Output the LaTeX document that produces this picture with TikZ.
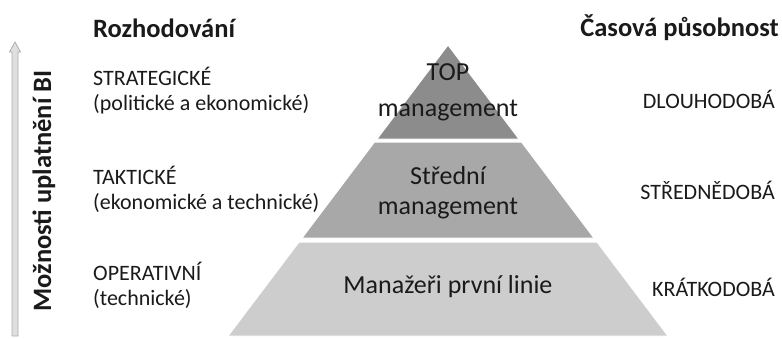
\documentclass[tikz,border=0pt]{standalone}
\usepackage{fontspec}
\setmainfont{Carlito}
\usetikzlibrary{positioning}

\definecolor{topgray}{HTML}{8C8C8C}
\definecolor{midgray}{HTML}{A8A8A8}
\definecolor{lowgray}{HTML}{CDCDCD}
\definecolor{inktext}{HTML}{1A1A1A}

\tikzstyle{heading} = [font=\fontsize{26.5}{30}\selectfont\bfseries,text=inktext,inner sep=0pt]
\tikzstyle{level} = [font=\fontsize{22}{25}\selectfont,text=inktext,align=left,anchor=west,inner sep=0pt]
\tikzstyle{horizon} = [font=\fontsize{22}{25}\selectfont,text=inktext,anchor=east,inner sep=0pt]
\tikzstyle{tier} = [font=\fontsize{26}{30}\selectfont,text=inktext,align=center,inner sep=0pt]
\tikzstyle{layer} = [draw=white,line width=1pt]
\tikzstyle{bigarrow} = [draw=gray!65,fill=gray!25,line width=0.8pt]

\begin{document}
\begin{tikzpicture}[x=1pt,y=-1pt]
      \useasboundingbox (0,0) rectangle (782,338);
      %pyramid
      \path[layer,fill=topgray] (448,45) -- (519,139) -- (377,139) -- cycle;
      \path[layer,fill=midgray] (374.5,142) -- (521.5,142) -- (594,238) -- (302,238) -- cycle;
      \path[layer,fill=lowgray] (299,242) -- (597,242) -- (668,336) -- (228,336) -- cycle;
      \node[tier] (top) at (448,92) {TOP\\[6pt]management};
      \node[tier] (mid) at (448,193) {Střední\\management};
      \node[tier] (low) at (448,287) {Manažeři první linie};

      %arrow
      \coordinate (arrbase) at (15,336);
      \coordinate (arrtip) at (15,42);
      \path[bigarrow] (12,336) -- (12,52) -- (9.5,52) -- (arrtip) -- (20.5,52) -- (18,52) -- (18,336) -- cycle;
      \node[heading,rotate=90] (bi) at (44,191) {Možnosti uplatnění BI};

      %headings
      \node[heading,anchor=west] (decision) at (93,28) {Rozhodování};
      \node[heading,anchor=east] (span) at (779,28) {Časová působnost};

      %levels
      \foreach \nodename/\y/\kind/\detail in {
        strat/91/STRATEGICKÉ/{(politické a ekonomické)},
        takt/189/TAKTICKÉ/{(ekonomické a technické)},
        oper/285/OPERATIVNÍ/{(technické)}}
      {
        \node[level] (\nodename) at (93,\y) {\kind\\\detail};
      };
      \foreach \nodename/\y/\period in {
        long/99/DLOUHODOBÁ,
        medium/190/STŘEDNĚDOBÁ,
        short/287/KRÁTKODOBÁ}
      {
        \node[horizon] (\nodename) at (775,\y) {\period};
      };
\end{tikzpicture}
\end{document}
